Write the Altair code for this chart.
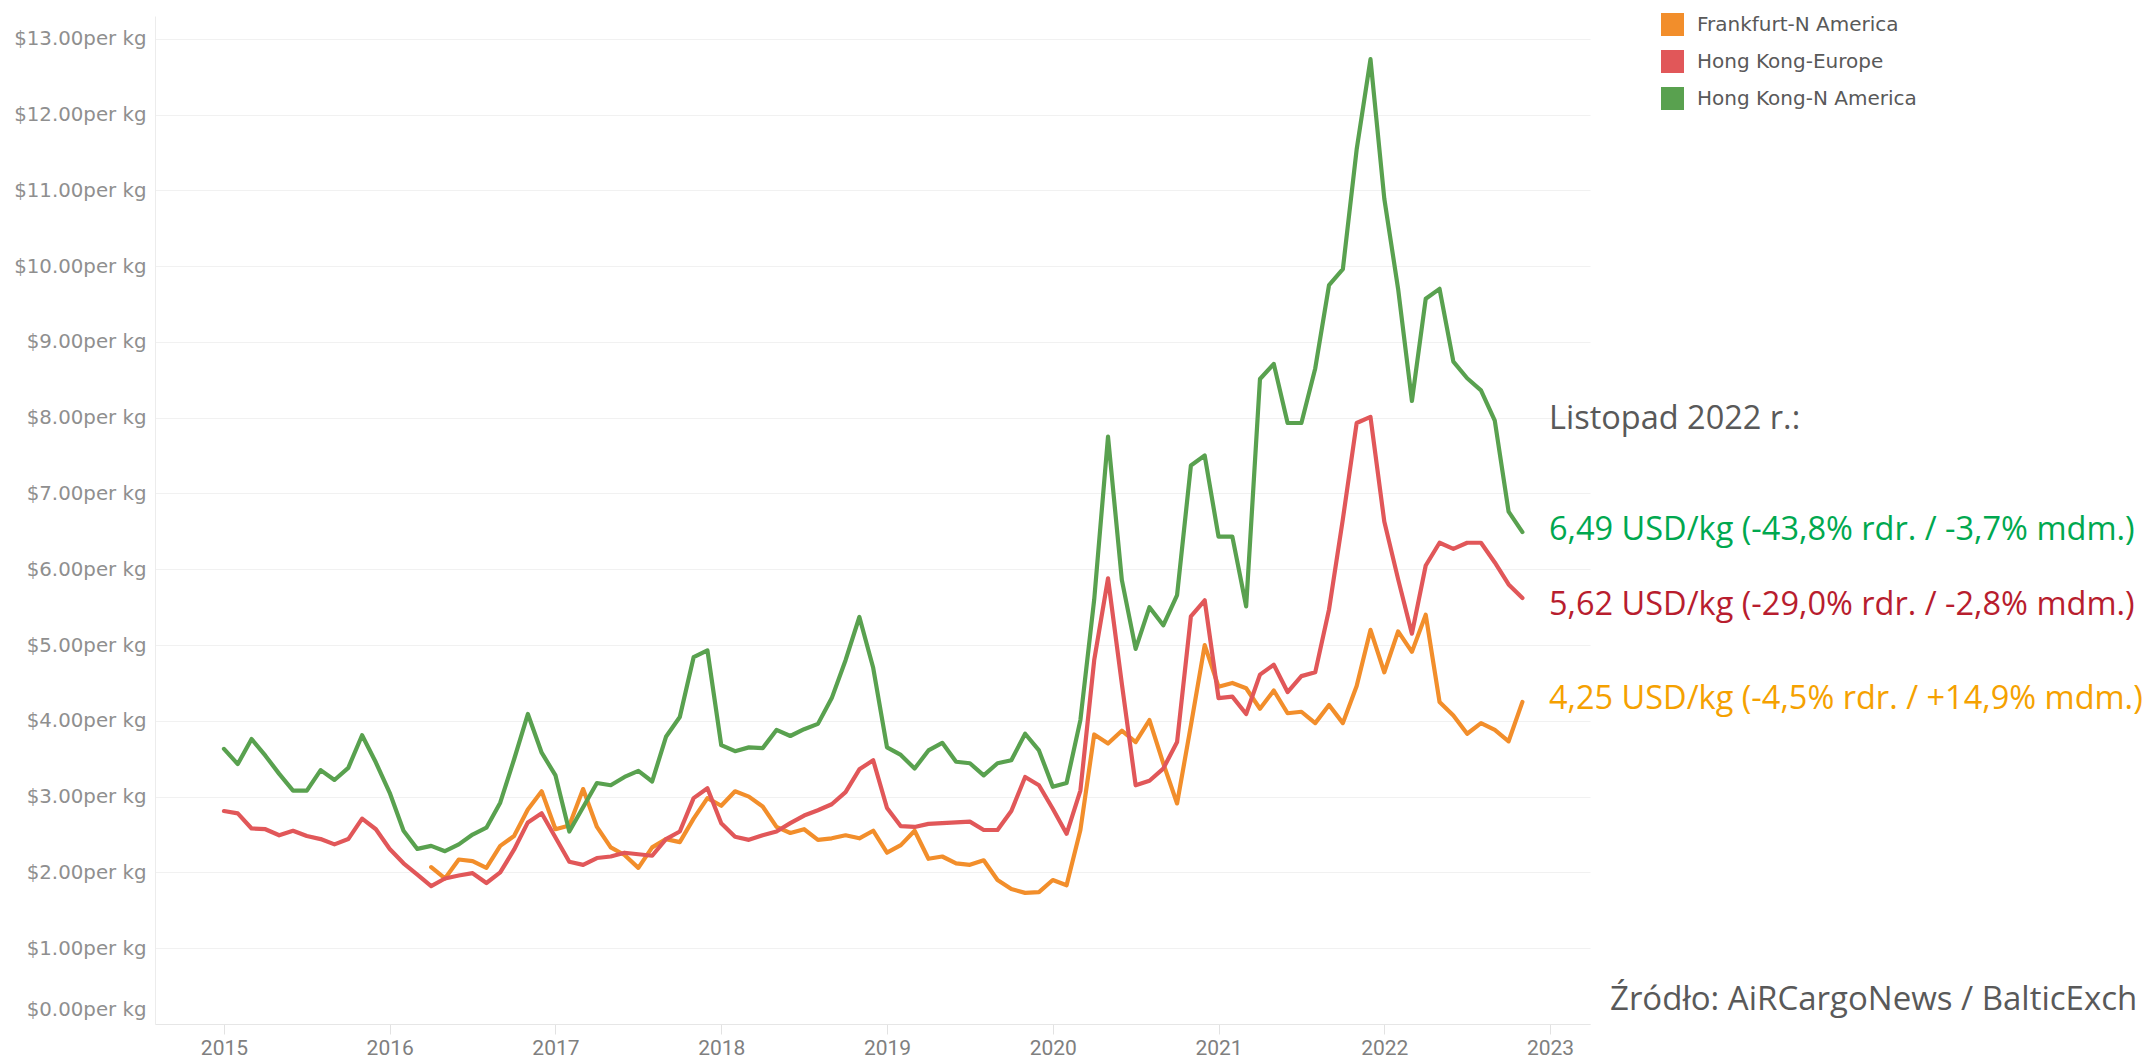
import altair as alt
import pandas as pd

# ---- data (monthly, Jan 2015 .. Nov 2022) ----
start_year = 2015
n_months = 95
months = [f"{start_year + i // 12}-{i % 12 + 1:02d}" for i in range(n_months)]

hk_na = [3.63, 3.43, 3.76, 3.54, 3.30, 3.08, 3.08, 3.35, 3.22, 3.38, 3.81, 3.45,
         3.05, 2.55, 2.31, 2.35, 2.28, 2.37, 2.50, 2.59, 2.92, 3.49, 4.09, 3.58,
         3.28, 2.54, 2.86, 3.18, 3.15, 3.26, 3.34, 3.20, 3.79, 4.05, 4.84, 4.93,
         3.68, 3.60, 3.65, 3.64, 3.88, 3.80, 3.89, 3.96, 4.30, 4.80, 5.37, 4.70,
         3.65, 3.55, 3.37, 3.61, 3.71, 3.46, 3.44, 3.28, 3.44, 3.48, 3.83, 3.61,
         3.13, 3.18, 4.01, 5.60, 7.75, 5.86, 4.95, 5.50, 5.26, 5.66, 7.37, 7.50,
         6.43, 6.43, 5.51, 8.51, 8.71, 7.93, 7.93, 8.65, 9.75, 9.96, 11.54, 12.73,
         10.89, 9.70, 8.22, 9.57, 9.70, 8.74, 8.52, 8.36, 7.96, 6.76, 6.49]

hk_eu = [2.81, 2.78, 2.58, 2.57, 2.49, 2.55, 2.48, 2.44, 2.37, 2.44, 2.71, 2.57,
         2.31, 2.12, 1.97, 1.82, 1.92, 1.96, 1.99, 1.86, 2.00, 2.30, 2.66, 2.78,
         2.46, 2.14, 2.10, 2.19, 2.21, 2.26, 2.24, 2.22, 2.44, 2.54, 2.98, 3.11,
         2.65, 2.47, 2.43, 2.49, 2.54, 2.65, 2.75, 2.82, 2.90, 3.06, 3.36, 3.48,
         2.85, 2.61, 2.60, 2.64, 2.65, 2.66, 2.67, 2.56, 2.56, 2.81, 3.26, 3.15,
         2.84, 2.51, 3.08, 4.80, 5.88, 4.49, 3.15, 3.21, 3.37, 3.72, 5.38, 5.59,
         4.30, 4.32, 4.09, 4.61, 4.74, 4.38, 4.59, 4.64, 5.47, 6.66, 7.93, 8.01,
         6.63, 5.87, 5.15, 6.05, 6.35, 6.27, 6.35, 6.35, 6.09, 5.80, 5.62]

fra_na = [None] * 15 + [
         2.07, 1.92, 2.17, 2.15, 2.06, 2.35, 2.48, 2.83, 3.07,
         2.57, 2.62, 3.10, 2.60, 2.33, 2.23, 2.06, 2.33, 2.44, 2.40, 2.71, 2.98,
         2.88, 3.07, 3.00, 2.87, 2.60, 2.52, 2.57, 2.43, 2.45, 2.49, 2.45, 2.55,
         2.26, 2.36, 2.55, 2.18, 2.21, 2.12, 2.10, 2.16, 1.90, 1.78, 1.73, 1.74,
         1.90, 1.83, 2.56, 3.82, 3.70, 3.87, 3.72, 4.01, 3.44, 2.91, 3.94, 5.00,
         4.45, 4.50, 4.43, 4.16, 4.40, 4.10, 4.12, 3.97, 4.21, 3.97, 4.46, 5.20,
         4.64, 5.18, 4.91, 5.40, 4.25, 4.07, 3.83, 3.97, 3.88, 3.73, 4.25]

series_names = ["Frankfurt-N America", "Hong Kong-Europe", "Hong Kong-N America"]
series_values = [fra_na, hk_eu, hk_na]
series_colors = ["#F28E2B", "#E15759", "#59A14F"]

year_ticks = list(range(2015, 2024))
price_ticks = list(range(0, 14))

annot_title = "Listopad 2022 r.:"
annot_lines = [
    ("6,49 USD/kg (-43,8% rdr. / -3,7% mdm.)", "#00A84F"),
    ("5,62 USD/kg (-29,0% rdr. / -2,8% mdm.)", "#B81D2E"),
    ("4,25 USD/kg (-4,5% rdr. / +14,9% mdm.)", "#F5A100"),
]
source_text = "Źródło: AiRCargoNews / BalticExch"

# ---- table ----
rows = []
for name, col, vals in zip(series_names, series_colors, series_values):
    for mon, v in zip(months, vals):
        if v is None:
            continue
        yr, mo = int(mon[:4]), int(mon[5:])
        rows.append({"t": yr + (mo - 1) / 12.0, "price": v, "route": name,
                     "col": col, "month": mon})
df = pd.DataFrame(rows)

W, H = 1435, 1008

x_enc = alt.X(
    "t:Q",
    scale=alt.Scale(domain=[2014.584, 2023.241], nice=False, zero=False),
    axis=alt.Axis(
        values=year_ticks, format="d", title=None, grid=False,
        tickSize=10, tickColor="#e2e2e2", domainColor="#e6e6e6",
        labelFont="Roboto", labelFontSize=21, labelColor="#7f7f7f",
        labelPadding=3, labelFlush=False,
    ),
)
y_enc = alt.Y(
    "price:Q",
    scale=alt.Scale(domain=[0, 13.3], nice=False),
    axis=alt.Axis(
        values=price_ticks, title=None, ticks=False, tickSize=0,
        labelExpr="'$' + format(datum.value, '.2f') + 'per kg'",
        gridColor="#f1f1f1", domainColor="#ececec",
        labelFont="DejaVu Sans", labelFontSize=19.8, labelColor="#8f8f8f",
        labelPadding=9, labelFlush=True, labelFlushOffset=-5,
    ),
)

lines = alt.Chart(df).mark_line(strokeWidth=4.2, strokeJoin="round", strokeCap="round").encode(
    x=x_enc,
    y=y_enc,
    stroke=alt.Stroke("col:N", scale=None),
    detail="route:N",
    order=alt.Order("t:Q"),
)

legend_marks = alt.Chart(df).mark_square(opacity=0, size=4).encode(
    x="t:Q",
    y="price:Q",
    color=alt.Color(
        "route:N", scale=alt.Scale(domain=series_names, range=series_colors),
        legend=alt.Legend(
            orient="none", legendX=1506, legendY=-3, title=None,
            symbolType="square", symbolSize=529, symbolOpacity=1, symbolStrokeWidth=0,
            labelFont="DejaVu Sans", labelFontSize=20, labelColor="#595959",
            labelOffset=13, rowPadding=14, padding=0, labelLimit=0,
        ),
    ),
)

FS = 32.5
text_layers = [
    alt.Chart(pd.DataFrame({"s": [annot_title]})).mark_text(
        align="left", baseline="alphabetic", font="Open Sans", fontSize=FS, color="#595959"
    ).encode(x=alt.value(1394), y=alt.value(413), text="s:N")
]
for (txt, col), ypix in zip(annot_lines, [524, 599, 693]):
    text_layers.append(
        alt.Chart(pd.DataFrame({"s": [txt]})).mark_text(
            align="left", baseline="alphabetic", font="Open Sans", fontSize=FS, color=col
        ).encode(x=alt.value(1394), y=alt.value(ypix), text="s:N")
    )
text_layers.append(
    alt.Chart(pd.DataFrame({"s": [source_text]})).mark_text(
        align="left", baseline="alphabetic", font="Open Sans", fontSize=33, color="#595959"
    ).encode(x=alt.value(1455), y=alt.value(994), text="s:N")
)

chart = alt.layer(lines, legend_marks, *text_layers).properties(
    width=W, height=H,
    autosize=alt.AutoSizeParams(type="none"),
    padding={"left": 147, "top": 8, "right": 556, "bottom": 40},
    background="white",
).configure_view(stroke=None)

chart.save("out.html", embed_options={"renderer": "svg", "actions": False})
